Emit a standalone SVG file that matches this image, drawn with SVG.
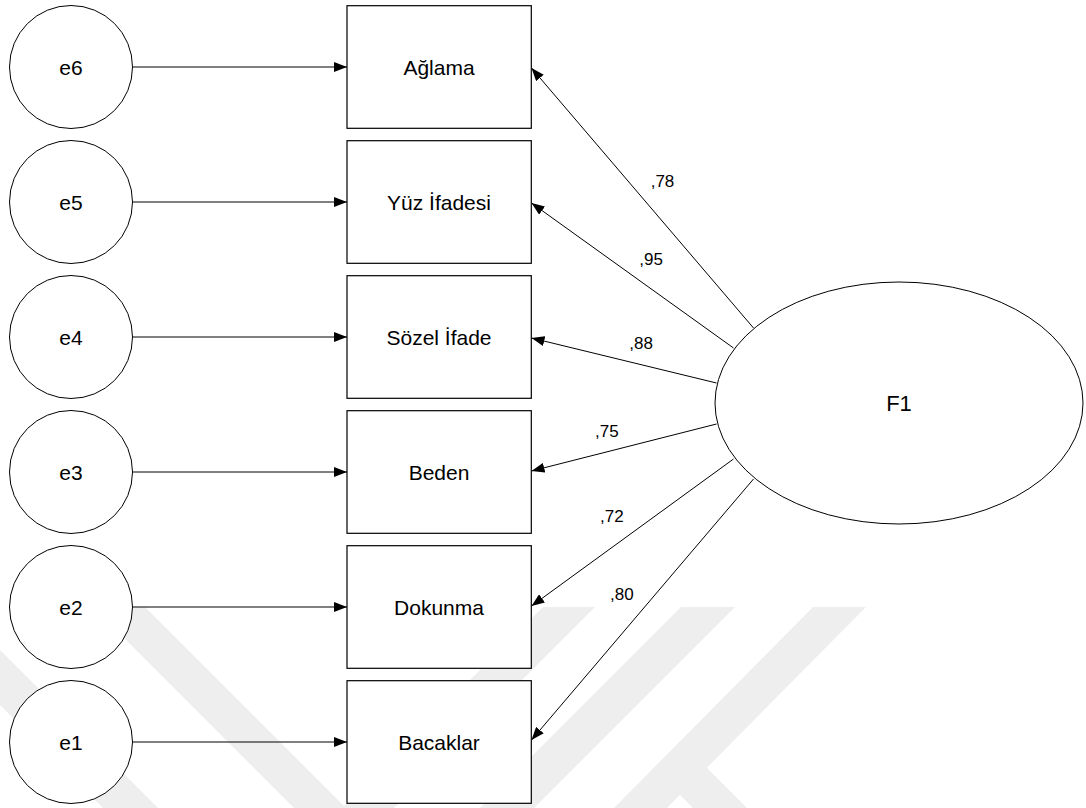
<svg xmlns="http://www.w3.org/2000/svg" width="1086" height="808" viewBox="0 0 1086 808">
<style>
  .wm { fill: #eeeeee; stroke: none; }
  .err { fill: #ffffff; stroke: #000000; stroke-width: 1; }
  .box { fill: #ffffff; stroke: #000000; stroke-width: 1.2; }
  .lat { fill: #ffffff; stroke: #000000; stroke-width: 1; }
  .lbl { font-family: "Liberation Sans", Arial, sans-serif; font-size: 21px; fill: #000000; text-anchor: middle; }
  .coef { font-family: "Liberation Sans", Arial, sans-serif; font-size: 17px; fill: #000000; }
  .edge { stroke: #000000; stroke-width: 1; fill: none; marker-end: url(#ah); }
</style>
<defs>
  <marker id="ah" markerUnits="userSpaceOnUse" markerWidth="13" markerHeight="10" viewBox="0 0 13 10" refX="13" refY="5" orient="auto">
    <path d="M0,0 L13,5 L0,10 Z" fill="#000000"/>
  </marker>
</defs>
<rect x="0" y="0" width="1086" height="808" fill="#ffffff"/>
<g id="watermark">
  <polygon class="wm" points="0,650 0,705 103,808 158,808"/>
  <polygon class="wm" points="93,607 145,607 346,808 294,808"/>
  <polygon class="wm" points="543,607 595,607 394,808 342,808"/>
  <polygon class="wm" points="681,607 735,607 534,808 480,808"/>
  <polygon class="wm" points="813,607 866,607 667,808 614,808"/>
  <polygon class="wm" points="706,767 747,808 693,808 680,795"/>
</g>
<g id="connectors">
  <line class="edge" x1="133" y1="67" x2="347" y2="67"/>
  <line class="edge" x1="133" y1="202" x2="347" y2="202"/>
  <line class="edge" x1="133" y1="337" x2="347" y2="337"/>
  <line class="edge" x1="133" y1="472" x2="347" y2="472"/>
  <line class="edge" x1="133" y1="607" x2="347" y2="607"/>
  <line class="edge" x1="133" y1="742" x2="347" y2="742"/>
  <line class="edge" x1="753.5" y1="328" x2="531.5" y2="68"/>
  <line class="edge" x1="733.5" y1="348" x2="531.5" y2="203"/>
  <line class="edge" x1="716.5" y1="383" x2="531.5" y2="338"/>
  <line class="edge" x1="716.5" y1="424" x2="531.5" y2="471"/>
  <line class="edge" x1="733.5" y1="459" x2="531.5" y2="606"/>
  <line class="edge" x1="753.5" y1="479" x2="531.5" y2="740"/>
  <text class="coef" x="650.7" y="187">,78</text>
  <text class="coef" x="639.3" y="265">,95</text>
  <text class="coef" x="629.3" y="349">,88</text>
  <text class="coef" x="595" y="436.7">,75</text>
  <text class="coef" x="600" y="521.7">,72</text>
  <text class="coef" x="610" y="600">,80</text>
</g>
<g id="e6"><circle class="err" cx="71" cy="67" r="61.5"/><text class="lbl" x="71" y="74.5">e6</text></g>
<g id="e5"><circle class="err" cx="71" cy="202" r="61.5"/><text class="lbl" x="71" y="209.5">e5</text></g>
<g id="e4"><circle class="err" cx="71" cy="337" r="61.5"/><text class="lbl" x="71" y="344.5">e4</text></g>
<g id="e3"><circle class="err" cx="71" cy="472" r="61.5"/><text class="lbl" x="71" y="479.5">e3</text></g>
<g id="e2"><circle class="err" cx="71" cy="607" r="61.5"/><text class="lbl" x="71" y="614.5">e2</text></g>
<g id="e1"><circle class="err" cx="71" cy="742" r="61.5"/><text class="lbl" x="71" y="749.5">e1</text></g>
<g id="aglama"><rect class="box" x="347" y="5.7" width="184.3" height="122.6"/><text class="lbl" x="439" y="74.5">Ağlama</text></g>
<g id="yuz"><rect class="box" x="347" y="140.7" width="184.3" height="122.6"/><text class="lbl" x="439" y="209.5">Yüz İfadesi</text></g>
<g id="sozel"><rect class="box" x="347" y="275.7" width="184.3" height="122.6"/><text class="lbl" x="439" y="344.5">Sözel İfade</text></g>
<g id="beden"><rect class="box" x="347" y="410.7" width="184.3" height="122.6"/><text class="lbl" x="439" y="479.5">Beden</text></g>
<g id="dokunma"><rect class="box" x="347" y="545.7" width="184.3" height="122.6"/><text class="lbl" x="439" y="614.5">Dokunma</text></g>
<g id="bacaklar"><rect class="box" x="347" y="680.7" width="184.3" height="122.6"/><text class="lbl" x="439" y="749.5">Bacaklar</text></g>
<g id="F1"><ellipse class="lat" cx="899" cy="403" rx="184" ry="121"/><text class="lbl" x="899" y="411" style="font-size:22px">F1</text></g>
</svg>
